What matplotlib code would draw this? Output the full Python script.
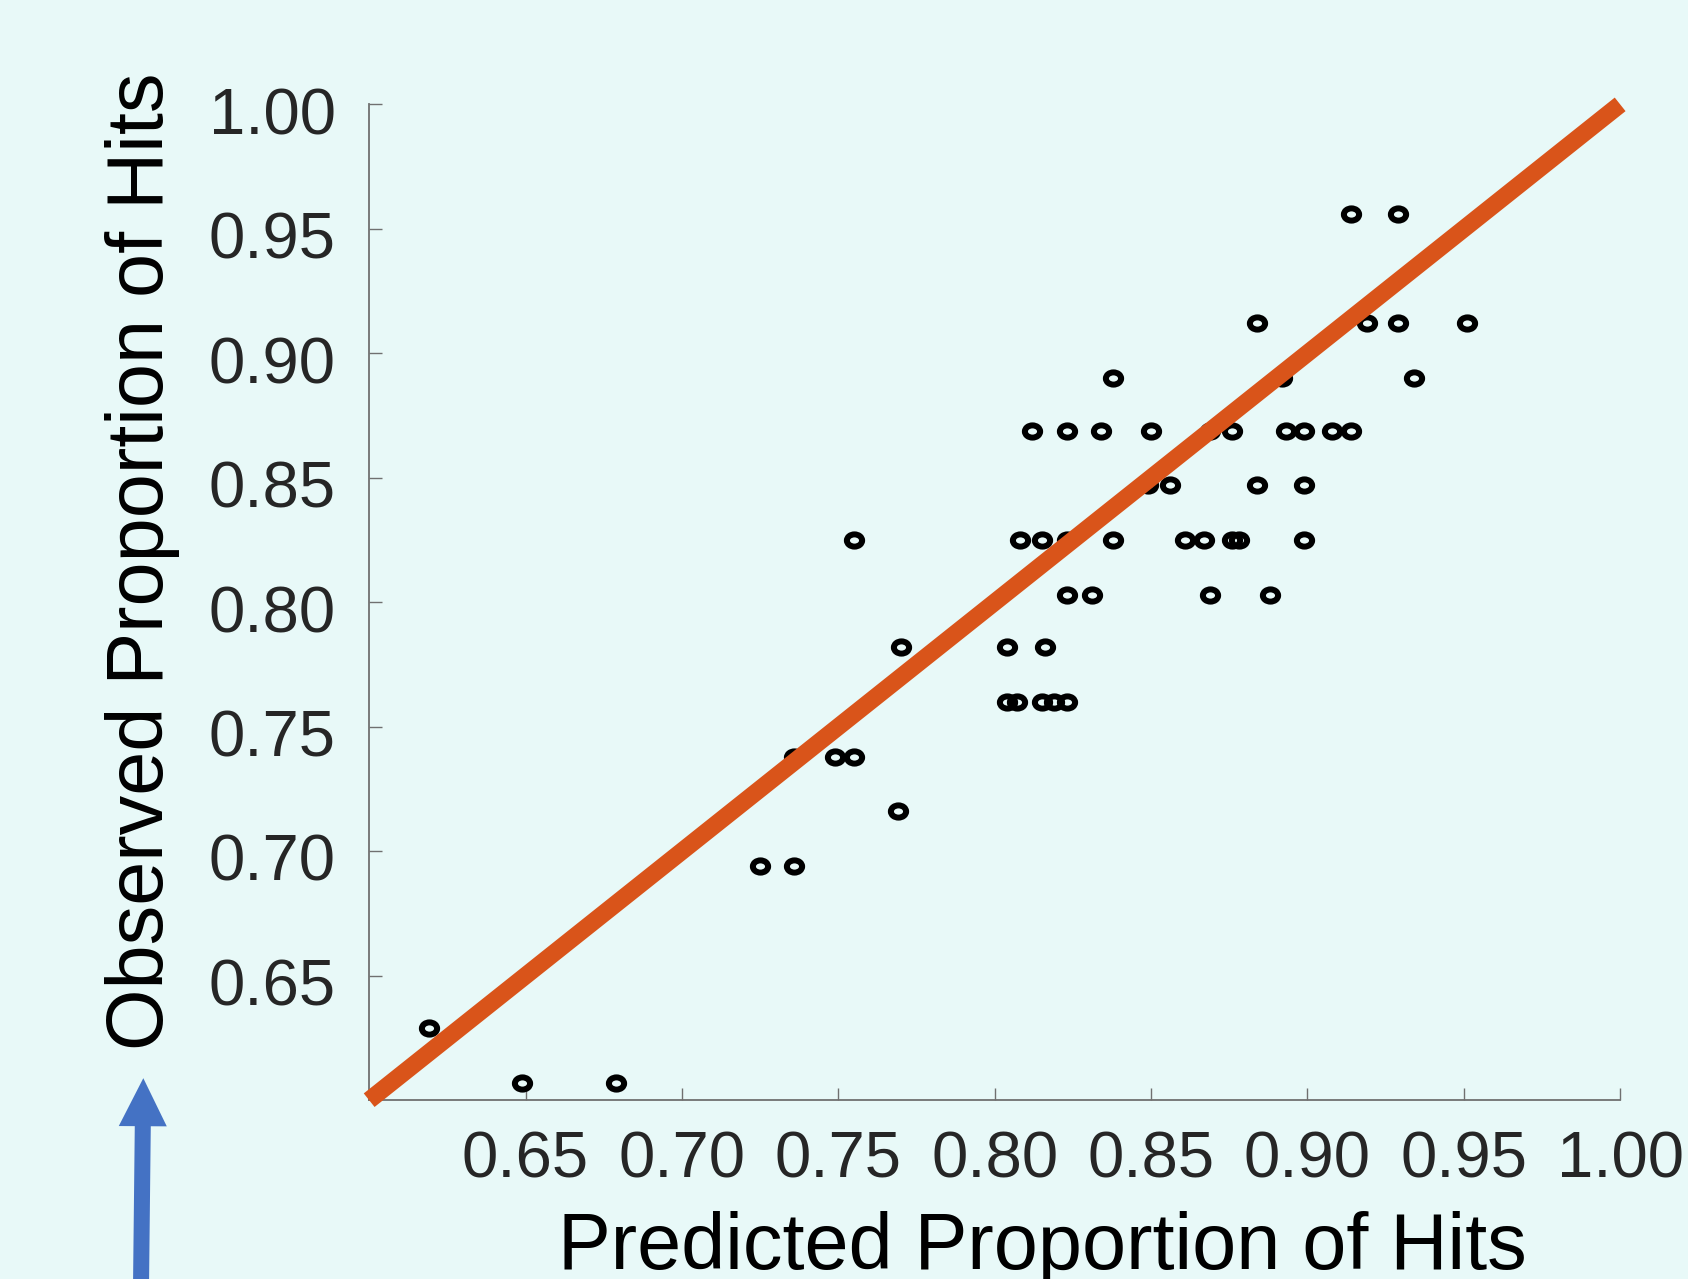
import numpy as np
import matplotlib.pyplot as plt
from matplotlib.path import Path
from matplotlib.transforms import Affine2D, ScaledTranslation
from matplotlib.patches import FancyArrow

plt.rcParams['font.family'] = ['Liberation Sans', 'DejaVu Sans']

# observed proportion levels (rows of points) and the predicted values on each row
obs_levels = [0.956, 0.912, 0.890, 0.869, 0.847, 0.825, 0.803,
              0.782, 0.760, 0.738, 0.716, 0.694, 0.629, 0.607]
pred_by_level = [
    [0.914, 0.929],
    [0.884, 0.919, 0.929, 0.951],
    [0.838, 0.892, 0.934],
    [0.812, 0.823, 0.834, 0.850, 0.869, 0.876, 0.893, 0.899, 0.908, 0.914],
    [0.849, 0.856, 0.884, 0.899],
    [0.755, 0.808, 0.815, 0.823, 0.838, 0.861, 0.867, 0.876, 0.878, 0.899],
    [0.823, 0.831, 0.869, 0.888],
    [0.770, 0.804, 0.816],
    [0.804, 0.807, 0.815, 0.819, 0.823],
    [0.736, 0.749, 0.755],
    [0.769],
    [0.725, 0.736],
    [0.619],
    [0.649, 0.679],
]
diag = [0.60, 1.00]
ticks = [0.65, 0.70, 0.75, 0.80, 0.85, 0.90, 0.95, 1.00]

pred = np.concatenate([np.array(p) for p in pred_by_level])
obs = np.concatenate([np.full(len(p), o) for p, o in zip(pred_by_level, obs_levels)])

bg = '#E8F9F8'
fig = plt.figure(figsize=(16.88, 12.79), dpi=100, facecolor=bg)
ax = fig.add_axes([0.2187, 0.1398, 0.7411, 0.7786])
ax.set_facecolor(bg)

# slightly squashed circle marker
oval = Path.unit_circle().transformed(Affine2D().scale(1.0, 0.8))
ax.plot(pred, obs, linestyle='none', marker=oval, markersize=11,
        markerfacecolor='none', markeredgecolor='black', markeredgewidth=4.3, zorder=2)
ax.plot(diag, diag, color='#D9541A', linewidth=12.5, solid_capstyle='butt',
        clip_on=False, zorder=3)

ax.set_xlim(0.60, 1.00)
ax.set_ylim(0.60, 1.00)
ax.set_xticks(ticks)
ax.set_yticks(ticks)
ax.set_xticklabels(['%.2f' % t for t in ticks])
ax.set_yticklabels(['%.2f' % t for t in ticks])

for s in ['top', 'right']:
    ax.spines[s].set_visible(False)
for s in ['left', 'bottom']:
    ax.spines[s].set_color('#707070')
    ax.spines[s].set_linewidth(1.3)
ax.tick_params(direction='in', length=9, width=1.0, color='#707070',
               labelsize=47, labelcolor='#262626')
ax.tick_params(axis='y', pad=24)
ax.tick_params(axis='x', pad=22)

# y tick labels sit a little below their ticks in the original
shift = ScaledTranslation(0, -4.5 / 72, fig.dpi_scale_trans)
for lab in ax.get_yticklabels():
    lab.set_transform(lab.get_transform() + shift)

ax.set_xlabel('Predicted Proportion of Hits', fontsize=57, color='black')
ax.set_ylabel('Observed Proportion of Hits', fontsize=57, color='black')
ax.xaxis.set_label_coords(0.538, -0.111)
ax.yaxis.set_label_coords(-0.151, 0.541)

# blue arrow at the bottom left
fig.add_artist(FancyArrow(0.0835, -0.01, 0.0014, 0.167, width=16 / 1688,
                          head_width=48 / 1688, head_length=48 / 1279,
                          length_includes_head=True, transform=fig.transFigure,
                          color='#4472C4', linewidth=0))

plt.savefig('out.png', dpi=100, facecolor=bg)
